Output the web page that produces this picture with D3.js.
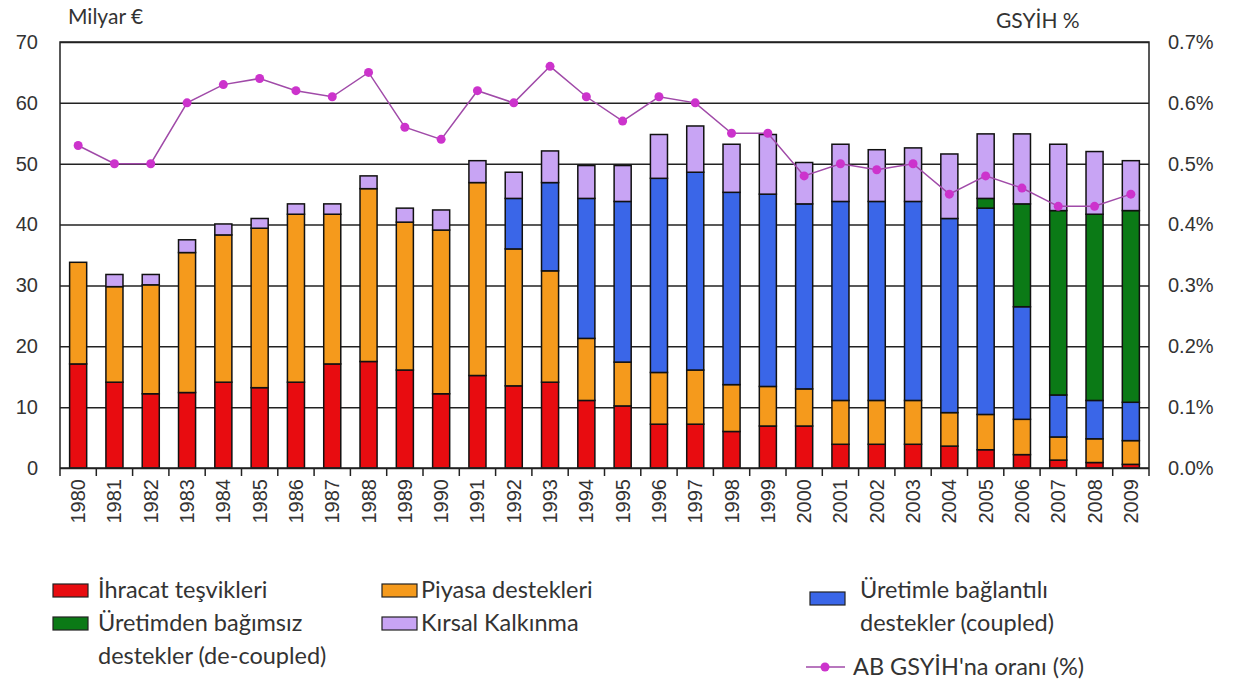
<!DOCTYPE html>
<html>
<head>
<meta charset="utf-8">
<script src="https://cdn.jsdelivr.net/npm/d3@7"></script>
<style>
  body { margin: 0; background: #fff; }
  svg { display: block; }
  .tick text { font-family: "Liberation Sans", Arial, sans-serif; fill: #333; }
  .cap { font-family: Lato, "Open Sans", sans-serif; fill: #333; }
</style>
</head>
<body>
<svg id="chart" width="1238" height="686"></svg>
<script>
var years = ["1980","1981","1982","1983","1984","1985","1986","1987","1988","1989",
             "1990","1991","1992","1993","1994","1995","1996","1997","1998","1999",
             "2000","2001","2002","2003","2004","2005","2006","2007","2008","2009"];

// milyar € per year
var exportRefunds = [17.1,14.1,12.2,12.4,14.1,13.2,14.1,17.1,17.5,16.1,12.2,15.2,13.5,14.1,11.1,
                     10.2,7.2,7.2,6.0,6.9,6.9,3.9,3.9,3.9,3.6,3.0,2.2,1.3,0.9,0.6];
var marketSupport = [16.7,15.7,17.9,23.0,24.2,26.2,27.6,24.6,28.4,24.3,26.9,31.7,22.5,18.3,10.2,
                     7.2,8.5,8.9,7.7,6.5,6.1,7.2,7.2,7.2,5.5,5.8,5.8,3.8,3.9,3.9];
var coupled = [0,0,0,0,0,0,0,0,0,0,0,0,8.3,14.5,23.0,26.4,31.9,32.5,31.6,31.6,
               30.4,32.7,32.7,32.7,31.9,33.9,18.5,6.9,6.3,6.3];
var decoupled = [0,0,0,0,0,0,0,0,0,0,0,0,0,0,0,0,0,0,0,0,
                 0,0,0,0,0,1.6,16.9,30.3,30.6,31.5];
var rural = [0,2.0,1.7,2.1,1.8,1.6,1.7,1.7,2.1,2.3,3.3,3.6,4.3,5.2,5.4,5.9,7.2,7.6,7.9,9.8,
             6.8,9.4,8.5,8.8,10.6,10.6,11.5,10.9,10.3,8.2];
// share of EU GDP (%)
var gdpShare = [0.53,0.50,0.50,0.60,0.63,0.64,0.62,0.61,0.65,0.56,0.54,0.62,0.60,0.66,0.61,
                0.57,0.61,0.60,0.55,0.55,0.48,0.50,0.49,0.50,0.45,0.48,0.46,0.43,0.43,0.45];
var pctTicks = [0, 0.1, 0.2, 0.3, 0.4, 0.5, 0.6, 0.7];

var keys = ["exp", "mkt", "cpl", "dcp", "rur"];
var colors = {exp: "#e80c10", mkt: "#f59a1c", cpl: "#3a66e8", dcp: "#0b7a16", rur: "#c8a4f4"};

var rows = years.map(function(y, i) {
  return {year: y, exp: exportRefunds[i], mkt: marketSupport[i], cpl: coupled[i],
          dcp: decoupled[i], rur: rural[i], gdp: gdpShare[i]};
});

var svg = d3.select("#chart");
var L = 60, R = 1149, T = 42, B = 468;

var x = d3.scaleBand().domain(years).range([L, R]).paddingInner(0.53).paddingOuter(0.265);
var y = d3.scaleLinear().domain([0, 70]).range([B, T]);
var y2 = d3.scaleLinear().domain([0, 0.7]).range([B, T]);

// gridlines + left labels
var gl = svg.append("g").attr("transform", "translate(" + L + ",0)")
  .call(d3.axisLeft(y).tickValues(d3.range(0, 71, 10)).tickSize(-(R - L)).tickPadding(22));
gl.select(".domain").remove();
gl.selectAll(".tick line").attr("stroke", "#222").attr("stroke-width", 1.5);
gl.selectAll(".tick text").attr("font-size", 20);

// right labels
var gr = svg.append("g").attr("transform", "translate(" + R + ",0)")
  .call(d3.axisRight(y2).tickValues(pctTicks)
    .tickFormat(function(d) { return d3.format(".1f")(d) + "%"; })
    .tickSize(0).tickPadding(19));
gr.select(".domain").remove();
gr.selectAll(".tick text").attr("font-size", 20);

// frame
svg.append("path")
  .attr("d", "M" + L + "," + B + "V" + T + "H" + R + "V" + B)
  .attr("fill", "none").attr("stroke", "#222").attr("stroke-width", 1.5);

// stacked bars
var series = d3.stack().keys(keys)(rows);
svg.append("g").selectAll("g").data(series).join("g")
  .attr("fill", function(s) { return colors[s.key]; })
  .selectAll("rect")
  .data(function(s) { return s.filter(function(d) { return d[1] - d[0] > 0; }); })
  .join("rect")
  .attr("x", function(d) { return x(d.data.year); })
  .attr("width", x.bandwidth())
  .attr("y", function(d) { return y(d[1]); })
  .attr("height", function(d) { return y(d[0]) - y(d[1]); })
  .attr("stroke", "#111").attr("stroke-width", 1.5);

// x axis with ticks at category boundaries
var xa = svg.append("g").attr("transform", "translate(0," + B + ")");
xa.append("line").attr("x1", L).attr("x2", R).attr("stroke", "#222").attr("stroke-width", 1.5);
var step = x.step();
xa.selectAll(".bt").data(d3.range(years.length + 1)).join("line")
  .attr("class", "bt")
  .attr("x1", function(i) { return L + i * step; })
  .attr("x2", function(i) { return L + i * step; })
  .attr("y1", 0).attr("y2", 8)
  .attr("stroke", "#222").attr("stroke-width", 1.5);
xa.selectAll(".yl").data(years).join("text")
  .attr("class", "yl")
  .attr("transform", function(d) { return "translate(" + (x(d) + x.bandwidth() / 2 + 7) + ",11) rotate(-90)"; })
  .attr("text-anchor", "end")
  .attr("font-family", "Liberation Sans, Arial, sans-serif")
  .attr("font-size", 20).attr("fill", "#333")
  .text(function(d) { return d; });

// GDP share line
var line = d3.line()
  .x(function(d) { return x(d.year) + x.bandwidth() / 2; })
  .y(function(d) { return y2(d.gdp); });
svg.append("path").datum(rows)
  .attr("d", line).attr("fill", "none")
  .attr("stroke", "#a04aa8").attr("stroke-width", 1.5);
svg.append("g").selectAll("circle").data(rows).join("circle")
  .attr("cx", function(d) { return x(d.year) + x.bandwidth() / 2; })
  .attr("cy", function(d) { return y2(d.gdp); })
  .attr("r", 4.5).attr("fill", "#cc33cc");

// axis captions
svg.append("text").attr("class", "cap").attr("x", 68).attr("y", 24).attr("font-size", 21).text("Milyar €");
svg.append("text").attr("class", "cap").attr("x", 996).attr("y", 28).attr("font-size", 21).text("GSYİH %");

// legend
var legend = [
  {key: "exp", x: 53, y: 590, lines: ["İhracat teşvikleri"]},
  {key: "dcp", x: 53, y: 623, lines: ["Üretimden bağımsız", "destekler (de-coupled)"]},
  {key: "mkt", x: 382, y: 590, lines: ["Piyasa destekleri"]},
  {key: "rur", x: 382, y: 623, lines: ["Kırsal Kalkınma"]},
  {key: "cpl", x: 810, y: 590, lines: ["Üretimle bağlantılı", "destekler (coupled)"]}
];
var lg = svg.append("g").selectAll("g").data(legend).join("g");
lg.append("rect")
  .attr("x", function(d) { return d.x; })
  .attr("y", function(d) { return d.y - 6 + (d.key === "cpl" ? 8 : 0); })
  .attr("width", 35).attr("height", 13)
  .attr("fill", function(d) { return colors[d.key]; })
  .attr("stroke", "#222").attr("stroke-width", 1.2);
lg.each(function(d) {
  var g = d3.select(this);
  var tx = d.key === "mkt" || d.key === "rur" ? d.x + 39 : d.x + (d.key === "cpl" ? 50 : 45);
  d.lines.forEach(function(t, i) {
    g.append("text").attr("class", "cap")
      .attr("x", tx).attr("y", d.y + i * 33 + 8)
      .attr("font-size", 23.5).text(t);
  });
});
svg.append("line").attr("x1", 806).attr("x2", 845).attr("y1", 667).attr("y2", 667)
  .attr("stroke", "#a04aa8").attr("stroke-width", 1.5);
svg.append("circle").attr("cx", 825).attr("cy", 667).attr("r", 4.5).attr("fill", "#cc33cc");
svg.append("text").attr("class", "cap").attr("x", 853).attr("y", 675).attr("font-size", 23.5)
  .text("AB GSYİH'na oranı (%)");
</script>
</body>
</html>
